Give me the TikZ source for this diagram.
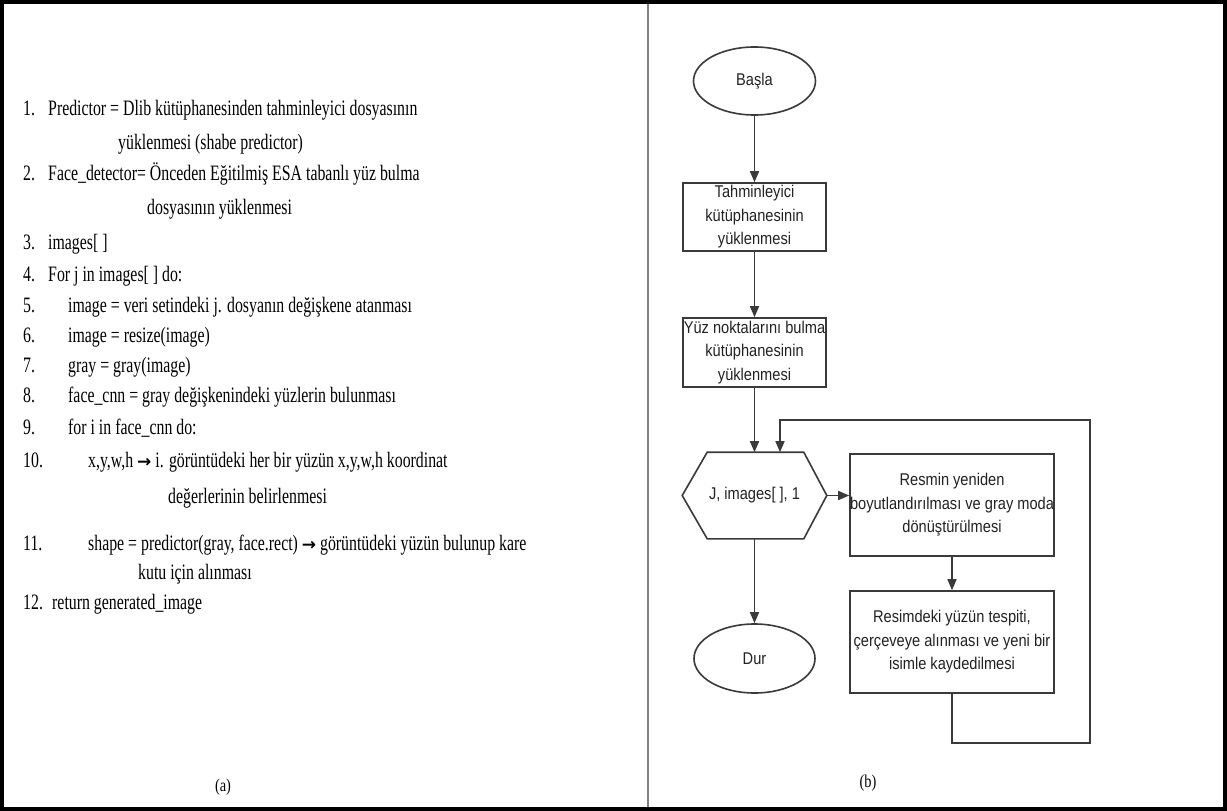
\documentclass[tikz,border=0pt]{standalone}
\usepackage{fontspec}
\setmainfont{Liberation Serif}
\newfontfamily\lserif[FakeStretch=0.72]{Liberation Serif}
\newfontfamily\capserif[FakeStretch=0.8]{Liberation Serif}
\newfontfamily\lsans[FakeStretch=0.86]{Liberation Sans}
\newfontfamily\arrowfont{DejaVu Sans}
\usetikzlibrary{arrows.meta,shapes.geometric}
\definecolor{linegray}{HTML}{3A3A3A}
\definecolor{divgray}{HTML}{808080}
\definecolor{txt}{HTML}{222222}
\newcommand{\harr}{{\arrowfont\bfseries\fontsize{17}{20}\selectfont →}}
\tikzset{
  code/.style={anchor=base west, inner sep=0pt, text=black, font=\lserif\fontsize{22}{26}\selectfont},
  capt/.style={inner sep=0pt, text=black, font=\capserif\fontsize{18}{20}\selectfont},
  fbox/.style={draw=linegray, line width=1.6pt, align=center, inner sep=0pt, text=txt,
    font=\lsans\fontsize{17}{23.5}\selectfont},
  term/.style={fbox, ellipse},
  procbox/.style={fbox, rectangle},
  hexbox/.style={fbox, draw=none, rectangle, minimum width=143pt, minimum height=85pt},
  arr/.style={draw=linegray, line width=1.5pt, -{Triangle[length=11pt,width=9pt]}},
}
\begin{document}
\begin{tikzpicture}[x=1pt,y=-1pt]
\useasboundingbox (0,0) rectangle (1227,811);
\fill[white] (0,0) rectangle (1227,811);
% frame and divider
\draw[black, line width=4pt] (2,2) rectangle (1225,809);
\draw[divgray, line width=1.5pt] (648,4) -- (648,807);

% ---- left panel: pseudo code ----
\node[code] (n1) at (23,115) {1.};
\node[code] (t1) at (48,115) {Predictor = Dlib kütüphanesinden tahminleyici dosyasının};
\node[code] (t1b) at (118,149) {yüklenmesi (shabe predictor)};
\node[code] (n2) at (23,180) {2.};
\node[code] (t2) at (48,180) {Face\_detector= Önceden Eğitilmiş ESA tabanlı yüz bulma};
\node[code] (t2b) at (147,214) {dosyasının yüklenmesi};
\node[code] (n3) at (23,249) {3.};
\node[code] (t3) at (48,249) {images[ ]};
\node[code] (n4) at (23,281) {4.};
\node[code] (t4) at (48,281) {For j in images[ ] do:};
\node[code] (n5) at (23,312) {5.};
\node[code] (t5) at (68,312) {image = veri setindeki j. dosyanın değişkene atanması};
\node[code] (n6) at (23,342) {6.};
\node[code] (t6) at (68,342) {image = resize(image)};
\node[code] (n7) at (23,372) {7.};
\node[code] (t7) at (68,372) {gray = gray(image)};
\node[code] (n8) at (23,402) {8.};
\node[code] (t8) at (68,402) {face\_cnn = gray değişkenindeki yüzlerin bulunması};
\node[code] (n9) at (23,434) {9.};
\node[code] (t9) at (68,434) {for i in face\_cnn do:};
\node[code] (n10) at (23,467) {10.};
\node[code] (t10) at (88,467) {x,y,w,h \harr{} i. görüntüdeki her bir yüzün x,y,w,h koordinat};
\node[code] (t10b) at (168,503) {değerlerinin belirlenmesi};
\node[code] (n11) at (23,550) {11.};
\node[code] (t11) at (88,550) {shape = predictor(gray, face.rect) \harr{} görüntüdeki yüzün bulunup kare};
\node[code] (t11b) at (138,579) {kutu için alınması};
\node[code] (n12) at (23,609) {12.};
\node[code] (t12) at (52,609) {return generated\_image};
\node[capt] (capa) at (223,787) {(a)};

% ---- right panel: flowchart ----
\node[term, minimum width=122pt, minimum height=68pt] (start) at (754.5,81) {Başla};
\node[procbox, minimum width=143pt, minimum height=68pt] (b1) at (754.5,217) {Tahminleyici\\kütüphanesinin\\yüklenmesi};
\node[procbox, minimum width=143pt, minimum height=69pt] (b2) at (754.5,352.5) {Yüz noktalarını bulma\\kütüphanesinin\\yüklenmesi};
\node[hexbox] (hex) at (754.5,495.5) {J, images[ ], 1};
\draw[linegray, line width=1.6pt]
  ([xshift=25pt]hex.north west) -- ([xshift=-23pt]hex.north east) -- (hex.east)
  -- ([xshift=-23pt]hex.south east) -- ([xshift=25pt]hex.south west) -- (hex.west) -- cycle;
\node[procbox, minimum width=204pt, minimum height=102pt] (b3) at (952,505) {Resmin yeniden\\boyutlandırılması ve gray moda\\dönüştürülmesi};
\node[procbox, minimum width=204pt, minimum height=102pt] (b4) at (952,642) {Resimdeki yüzün tespiti,\\çerçeveye alınması ve yeni bir\\isimle kaydedilmesi};
\node[term, minimum width=121pt, minimum height=69pt] (stop) at (754.5,658.5) {Dur};
\node[capt] (capb) at (868,783) {(b)};

\coordinate (lb) at (1090,743);
\coordinate (lt) at (1090,420);
\coordinate (hexin) at ([xshift=25.5pt]hex.north);

\draw[arr] (start) -- (b1);
\draw[arr] (b1) -- (b2);
\draw[arr] (b2) -- (hex);
\draw[arr] (hex.east) -- (hex.east -| b3.west);
\draw[arr] (b3) -- (b4);
\draw[arr] (hex) -- (stop);
\draw[arr] (b4.south) |- (lb) -- (lt) -| (hexin);
\end{tikzpicture}
\end{document}
